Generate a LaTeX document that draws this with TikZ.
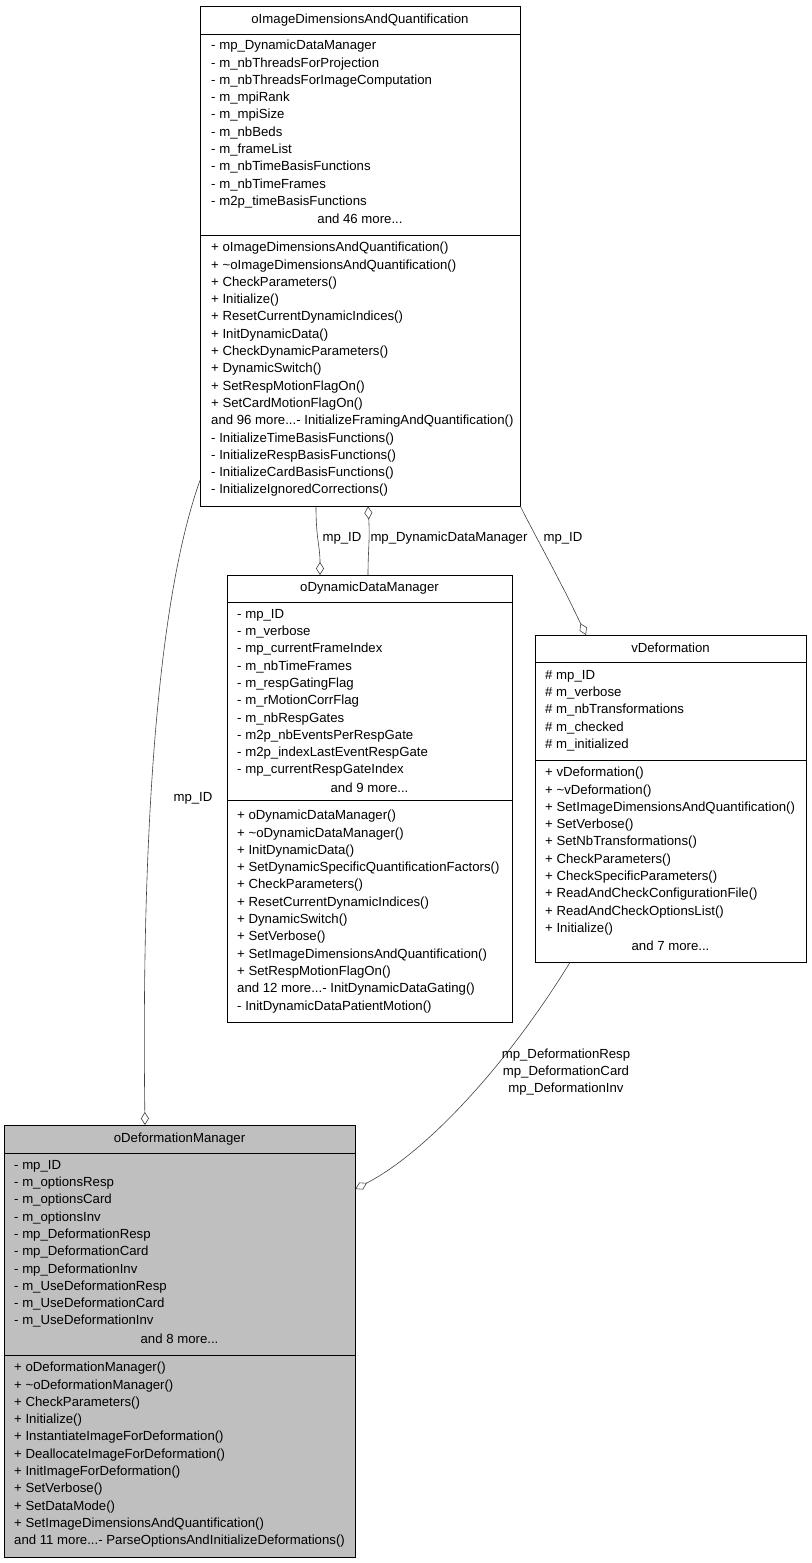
\documentclass[tikz,border=0pt]{standalone}
\usepackage{fontspec}
\setmainfont{Liberation Sans}
\usetikzlibrary{arrows.meta,calc,positioning}

\tikzset{
  umlbox/.style={draw=black, anchor=north west, inner sep=0pt, minimum width=#1},
  sect/.style={anchor=north west, align=left, inner sep=0pt, font=\fontsize{13.2}{17.3}\selectfont},
  more/.style={inner sep=0pt, font=\fontsize{13.2}{17.3}\selectfont},
  edgelbl/.style={inner sep=0pt, font=\fontsize{13.2}{17.3}\selectfont, align=center},
  agg/.style={draw=black!75, line width=0.6pt},
  dia/.style={{Diamond[open, fill=white, length=13pt, width=8pt]}-},
}

\begin{document}
\begin{tikzpicture}[x=1pt, y=-1pt]
\useasboundingbox (0,0) rectangle (811,1563);

% class boxes
\node[umlbox=320, minimum height=500] (imgq) at (200,6) {};
\node[umlbox=285, minimum height=447] (dyn) at (227,575) {};
\node[umlbox=271, minimum height=327] (vdef) at (535,635) {};
\node[umlbox=351, minimum height=432, fill=black!25] (dman) at (4,1125) {};

% dividers
\draw (200,34) -- (520,34);   \draw (200,235) -- (520,235);
\draw (227,602) -- (512,602); \draw (227,800) -- (512,800);
\draw (535,662) -- (806,662); \draw (535,760) -- (806,760);
\draw (4,1153) -- (355,1153); \draw (4,1355) -- (355,1355);

% titles
\node[more] (imgqT) at (360,20) {oImageDimensionsAndQuantification};
\node[more] (dynT) at (369.5,588) {oDynamicDataManager};
\node[more] (vdefT) at (670.5,648) {vDeformation};
\node[more] (dmanT) at (179.5,1139) {oDeformationManager};

% oImageDimensionsAndQuantification
\node[sect] (imgqA) at (211,40) {- mp\_DynamicDataManager\\- m\_nbThreadsForProjection\\- m\_nbThreadsForImageComputation\\- m\_mpiRank\\- m\_mpiSize\\- m\_nbBeds\\- m\_frameList\\- m\_nbTimeBasisFunctions\\- m\_nbTimeFrames\\- m2p\_timeBasisFunctions};
\node[more] (imgqAM) at (360,219) {and 46 more...};
\node[sect] (imgqM) at (211,242) {+ oImageDimensionsAndQuantification()\\+ \char`~oImageDimensionsAndQuantification()\\+ CheckParameters()\\+ Initialize()\\+ ResetCurrentDynamicIndices()\\+ InitDynamicData()\\+ CheckDynamicParameters()\\+ DynamicSwitch()\\+ SetRespMotionFlagOn()\\+ SetCardMotionFlagOn()\\and 96 more...- InitializeFramingAndQuantification()\\- InitializeTimeBasisFunctions()\\- InitializeRespBasisFunctions()\\- InitializeCardBasisFunctions()\\- InitializeIgnoredCorrections()};

% oDynamicDataManager
\node[sect] (dynA) at (237,609) {- mp\_ID\\- m\_verbose\\- mp\_currentFrameIndex\\- m\_nbTimeFrames\\- m\_respGatingFlag\\- m\_rMotionCorrFlag\\- m\_nbRespGates\\- m2p\_nbEventsPerRespGate\\- m2p\_indexLastEventRespGate\\- mp\_currentRespGateIndex};
\node[more] (dynAM) at (369.5,788) {and 9 more...};
\node[sect] (dynM) at (237,810) {+ oDynamicDataManager()\\+ \char`~oDynamicDataManager()\\+ InitDynamicData()\\+ SetDynamicSpecificQuantificationFactors()\\+ CheckParameters()\\+ ResetCurrentDynamicIndices()\\+ DynamicSwitch()\\+ SetVerbose()\\+ SetImageDimensionsAndQuantification()\\+ SetRespMotionFlagOn()\\and 12 more...- InitDynamicDataGating()\\- InitDynamicDataPatientMotion()};

% vDeformation
\node[sect] (vdefA) at (545,670) {\# mp\_ID\\\# m\_verbose\\\# m\_nbTransformations\\\# m\_checked\\\# m\_initialized};
\node[sect] (vdefM) at (545,767) {+ vDeformation()\\+ \char`~vDeformation()\\+ SetImageDimensionsAndQuantification()\\+ SetVerbose()\\+ SetNbTransformations()\\+ CheckParameters()\\+ CheckSpecificParameters()\\+ ReadAndCheckConfigurationFile()\\+ ReadAndCheckOptionsList()\\+ Initialize()};
\node[more] (vdefMM) at (670.5,946) {and 7 more...};

% oDeformationManager
\node[sect] (dmanA) at (14,1160) {- mp\_ID\\- m\_optionsResp\\- m\_optionsCard\\- m\_optionsInv\\- mp\_DeformationResp\\- mp\_DeformationCard\\- mp\_DeformationInv\\- m\_UseDeformationResp\\- m\_UseDeformationCard\\- m\_UseDeformationInv};
\node[more] (dmanAM) at (179.5,1339) {and 8 more...};
\node[sect] (dmanM) at (14,1362) {+ oDeformationManager()\\+ \char`~oDeformationManager()\\+ CheckParameters()\\+ Initialize()\\+ InstantiateImageForDeformation()\\+ DeallocateImageForDeformation()\\+ InitImageForDeformation()\\+ SetVerbose()\\+ SetDataMode()\\+ SetImageDimensionsAndQuantification()\\and 11 more...- ParseOptionsAndInitializeDeformations()};

% aggregation connectors
\coordinate (e1a) at ($(imgq.south west)+(0,-26)$);
\coordinate (e1b) at ($(dman.north west)+(141,0)$);
\draw[agg, dia] (e1b) .. controls (142,900) and (150,620) .. (e1a);
\node[edgelbl] (l1) at (193,798) {mp\_ID};

\coordinate (e2a) at ($(imgq.south west)+(116,0)$);
\coordinate (e2b) at ($(dyn.north west)+(93,0)$);
\draw[agg, dia] (e2b) .. controls (320,545) and (316,540) .. (e2a);
\node[edgelbl] (l2) at (342,538) {mp\_ID};

\coordinate (e3a) at ($(imgq.south west)+(168,0)$);
\coordinate (e3b) at ($(dyn.north west)+(141,0)$);
\draw[agg, dia] (e3a) .. controls (370,540) and (368,550) .. (e3b);
\node[edgelbl] (l3) at (449,538) {mp\_DynamicDataManager};

\coordinate (e4a) at ($(imgq.south east)+(0,0)$);
\coordinate (e4b) at ($(vdef.north west)+(51,0)$);
\draw[agg, dia] (e4b) .. controls (560,580) and (540,545) .. (e4a);
\node[edgelbl] (l4) at (563,538) {mp\_ID};

\coordinate (e5a) at ($(vdef.south west)+(35,0)$);
\coordinate (e5b) at ($(dman.north east)+(0,64)$);
\draw[agg, dia] (e5b) .. controls (430,1150) and (510,1060) .. (e5a);
\node[edgelbl] (l5) at (566,1072) {mp\_DeformationResp\\mp\_DeformationCard\\mp\_DeformationInv};
\end{tikzpicture}
\end{document}
